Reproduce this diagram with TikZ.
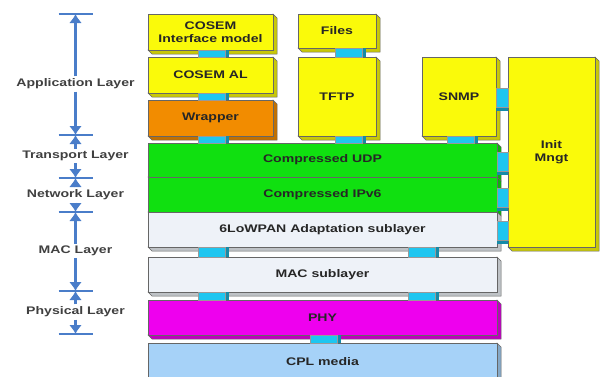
\documentclass[tikz,border=0pt]{standalone}
\usepackage{fontspec}
\setmainfont[FakeStretch=1.28]{Liberation Sans}
\usetikzlibrary{calc}
\usetikzlibrary{arrows.meta}
\usetikzlibrary{backgrounds}
\definecolor{yel}{HTML}{FAFA0A}
\definecolor{orng}{HTML}{F28C00}
\definecolor{grn}{HTML}{10E010}
\definecolor{pale}{HTML}{EEF2F8}
\definecolor{mag}{HTML}{EE00EE}
\definecolor{sky}{HTML}{A6D2F8}
\definecolor{lnk}{HTML}{1EC6F0}
\definecolor{axis}{HTML}{4A7DC9}
\begin{document}
\begin{tikzpicture}[x=1pt,y=-1pt,
  every node/.style={inner sep=0pt,outer sep=0pt,font=\fontsize{11}{13}\selectfont\bfseries,text=black!85},
  box/.style={draw=black!60,line width=0.5pt,align=center},
  axlabel/.style={text=black!75,inner sep=2.5pt},
  axarrow/.style={axis,line width=2.8pt,-{Latex[length=9pt,width=13pt]}},
  tick/.style={axis,line width=2.2pt}]
\useasboundingbox (0,0) rectangle (601,376);
\clip (0,0) rectangle (601,376);

\node[box,fill=yel,minimum width=125,minimum height=36] (cim) at (210.5,32) {COSEM\\Interface model};
\node[box,fill=yel,minimum width=125,minimum height=36] (cal) at (210.5,75) {COSEM AL};
\node[box,fill=orng,minimum width=125,minimum height=36] (wrap) at (210.5,118) {Wrapper};
\node[box,fill=yel,minimum width=78,minimum height=34] (files) at (337,31) {Files};
\node[box,fill=yel,minimum width=78,minimum height=79] (tftp) at (337,96.5) {TFTP};
\node[box,fill=yel,minimum width=74,minimum height=79] (snmp) at (459,96.5) {SNMP};
\node[box,fill=yel,minimum width=87,minimum height=190] (init) at (551.5,152) {Init\\Mngt};
\node[box,fill=grn,minimum width=349,minimum height=34] (udp) at (322.5,160) {Compressed UDP};
\node[box,fill=grn,minimum width=349,minimum height=35] (ipv6) at (322.5,194.5) {Compressed IPv6};
\node[box,fill=pale,minimum width=349,minimum height=35] (lowpan) at (322.5,229.5) {6LoWPAN Adaptation sublayer};
\node[box,fill=pale,minimum width=349,minimum height=35] (mac) at (322.5,274.5) {MAC sublayer};
\node[box,fill=mag,minimum width=349,minimum height=35] (phy) at (322.5,317.5) {PHY};
\node[box,fill=sky,minimum width=349,minimum height=37] (cpl) at (322.5,361.5) {CPL media};

\begin{scope}[on background layer]
\foreach \n/\c in {cim/yel,cal/yel,wrap/orng,files/yel,tftp/yel,snmp/yel,init/yel,udp/grn,ipv6/grn,lowpan/pale,mac/pale,phy/mag,cpl/sky}
  \filldraw[fill=\c!80!black,draw=black!60,line width=0.5pt] (\n.north east) -- ++(4,4) -- ($(\n.south east)+(4,4)$) -- ($(\n.south west)+(4,4)$) -- (\n.south west) -- (\n.south east) -- cycle;
\end{scope}

\foreach \a/\b/\dx in {cim/cal/50,cal/wrap/50,wrap/udp/50,files/tftp/37,tftp/udp/37,snmp/udp/25,lowpan/mac/50,lowpan/mac/260,mac/phy/50,mac/phy/260,phy/cpl/162}{
  \coordinate (p) at ([xshift=\dx]\a.south west);
  \coordinate (q) at ([xshift=\dx+27]\a.south west);
  \fill[lnk!70!black] (q) rectangle ($(q |- \b.north)+(4,0)$);
  \filldraw[lnk,draw=black!40,line width=0.3pt] (p) rectangle (q |- \b.north);
}
\foreach \a/\dy in {snmp/31,udp/9,ipv6/11,lowpan/9}{
  \coordinate (p) at ([yshift=-\dy]\a.north east);
  \coordinate (q) at ([yshift=-\dy-19]\a.north east);
  \fill[lnk!70!black] (q) rectangle ($(init.west |- q)+(0,4)$);
  \filldraw[lnk,draw=black!40,line width=0.3pt] (p) rectangle (init.west |- q);
}

\foreach \k/\y in {0/14,1/135,2/178,3/212,4/291,5/334}{
  \coordinate (k\k) at (75.5,\y);
  \draw[tick] ([xshift=-17]k\k) -- ([xshift=17]k\k);
}
\node[axlabel] (app) at (75.5,84) {Application Layer};
\node[axlabel] (trn) at (75.5,156) {Transport Layer};
\node[axlabel] (net) at (75.5,195) {Network Layer};
\node[axlabel] (macl) at (75.5,251) {MAC Layer};
\node[axlabel] (phyl) at (75.5,312) {Physical Layer};
\draw[axarrow] (app) -- (k0);
\draw[axarrow] (app) -- (k1);
\draw[axarrow] (trn) -- (k1);
\draw[axarrow] (trn) -- (k2);
\draw[axarrow] (net) -- (k2);
\draw[axarrow] (net) -- (k3);
\draw[axarrow] (macl) -- (k3);
\draw[axarrow] (macl) -- (k4);
\draw[axarrow] (phyl) -- (k4);
\draw[axarrow] (phyl) -- (k5);
\end{tikzpicture}
\end{document}
